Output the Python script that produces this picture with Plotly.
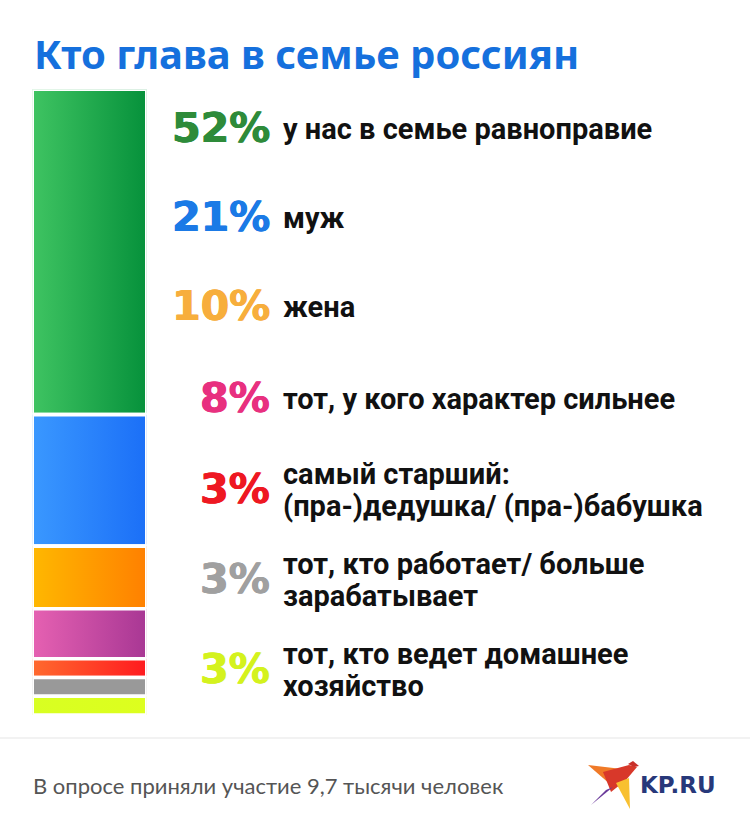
import plotly.graph_objects as go

# ---- data ----
categories = [
    "у нас в семье равноправие",
    "муж",
    "жена",
    "тот, у кого характер сильнее",
    "самый старший:<br>(пра-)дедушка/ (пра-)бабушка",
    "тот, кто работает/ больше<br>зарабатывает",
    "тот, кто ведет домашнее<br>хозяйство",
]
values = [52, 21, 10, 8, 3, 3, 3]
grad_left = ["#3fc462", "#3a98ff", "#ffb800", "#e661b2", "#ff6a2e", "#999999", "#d8ff22"]
grad_right = ["#06913b", "#1b6ff7", "#ff8000", "#a83794", "#ff1a1f", "#999999", "#ddff1e"]
label_colors = ["#2e8b3a", "#1b7ae6", "#f7ae3c", "#e8307f", "#ee1822", "#a0a0a0", "#d4f21e"]

title = "Кто глава в семье россиян"
footer = "В опросе приняли участие 9,7 тысячи человек"

W, H = 750, 828


def px(x, y):
    return x / W, 1 - y / H


fig = go.Figure()

start = 0
for v, c1, c2, name in zip(values, grad_left, grad_right, categories):
    end = start + v
    fig.add_trace(go.Scatter(
        x=[0, 1, 1, 0, 0], y=[start, start, end, end, start],
        fill="toself", mode="lines",
        line=dict(color="white", width=3.6),
        fillgradient=dict(type="horizontal", colorscale=[[0, c1], [1, c2]]),
        hoverinfo="skip", showlegend=False, name=name.replace("<br>", " "),
    ))
    start = end

# bar placement (pixels), including half of the white border
bx0, bx1 = 32.2, 146.8
by0, by1 = 89.2, 715.1
fig.update_layout(
    width=W, height=H, autosize=False,
    margin=dict(l=0, r=0, t=0, b=0),
    paper_bgcolor="white", plot_bgcolor="white",
    xaxis=dict(domain=[bx0 / W, bx1 / W], range=[0, 1], visible=False, fixedrange=True),
    yaxis=dict(domain=[1 - by1 / H, 1 - by0 / H], range=[sum(values), 0], visible=False, fixedrange=True),
)

# text rows
row_y = [127, 216, 305, 397, 488, 578, 668]
line_gap = 32
for i, (v, cat, col) in enumerate(zip(values, categories, label_colors)):
    xa, ya = px(272, row_y[i] + 1)
    fig.add_annotation(
        x=xa, y=ya, xref="paper", yref="paper", xanchor="right", yanchor="middle",
        text=f"{v}%", showarrow=False,
        font=dict(family="DejaVu Sans", size=41, color=col, weight="bold",
                  shadow=f"0.8px 0 0 {col}, -0.4px 0 0 {col}"),
    )
    lines = cat.split("<br>")
    n = len(lines)
    for j, ln in enumerate(lines):
        yc = row_y[i] + 2 + (j - (n - 1) / 2) * line_gap
        xb, yb = px(282, yc)
        fig.add_annotation(
            x=xb, y=yb, xref="paper", yref="paper", xanchor="left", yanchor="middle",
            text=ln, showarrow=False, align="left", borderpad=0,
            font=dict(family="Roboto", size=29, color="#111111", weight=700),
        )

# title
tx, ty = px(32, 54)
fig.add_annotation(x=tx, y=ty, xref="paper", yref="paper", xanchor="left", yanchor="middle",
                   text=title, showarrow=False,
                   font=dict(family="Noto Sans", size=40, color="#1570dd", weight="bold"))

# separator
fig.add_shape(type="line", xref="paper", yref="paper", x0=0, x1=1,
              y0=1 - 738 / H, y1=1 - 738 / H, line=dict(color="#eeeeee", width=1.5))

# footer
fx, fy = px(31, 785)
fig.add_annotation(x=fx, y=fy, xref="paper", yref="paper", xanchor="left", yanchor="middle",
                   text=footer, showarrow=False,
                   font=dict(family="Lato", size=22, color="#555555"))

# KP.RU logo
lx, ly = px(638, 785)
fig.add_annotation(x=lx, y=ly, xref="paper", yref="paper", xanchor="left", yanchor="middle",
                   text="KP.RU", showarrow=False,
                   font=dict(family="DejaVu Sans", size=23, color="#27387a", weight="bold"))


def poly(points, color):
    d = "M " + " L ".join(f"{x / W:.5f},{1 - y / H:.5f}" for x, y in points) + " Z"
    fig.add_shape(type="path", path=d, xref="paper", yref="paper",
                  fillcolor=color, line=dict(width=0), layer="above")


poly([(588, 765), (622, 769), (611, 785)], "#f07a28")
poly([(603, 772), (629, 765), (637, 767), (626, 780), (611, 792)], "#d8382a")
poly([(628, 764), (633, 761), (639, 766), (634, 767)], "#c8302a")
poly([(616, 783), (629, 778), (630, 809)], "#f8c030")
poly([(613, 787), (606, 790), (591, 805)], "#6a3a9a")

fig.write_html("out.html", config={"displayModeBar": False},
               post_script="document.body.style.margin='0';")
